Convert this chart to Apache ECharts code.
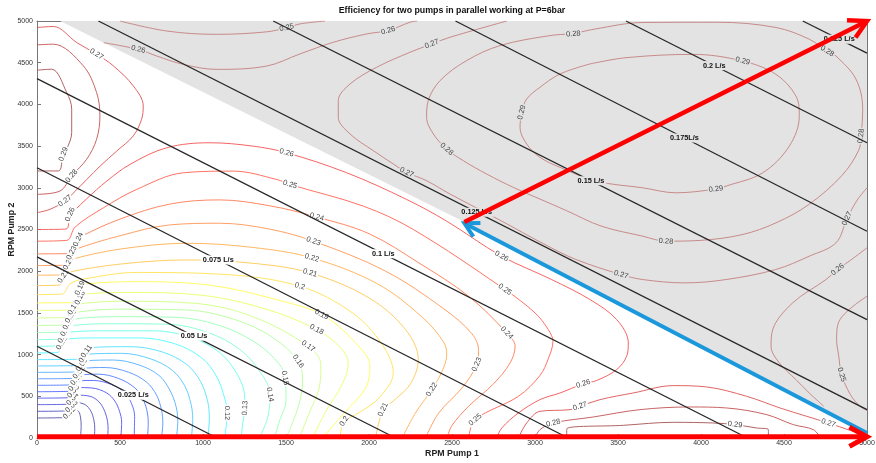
<!DOCTYPE html>
<html>
<head>
<meta charset="utf-8">
<script src="https://cdn.jsdelivr.net/npm/echarts@6/dist/echarts.min.js"></script>
<style>
html,body{margin:0;padding:0;background:#fff;}
#chart{width:876px;height:463px;}
</style>
</head>
<body>
<div id="chart"></div>
<script>
// Efficiency contours, x = RPM pump 1, y = RPM pump 2.
// Single-pump regime (white area), one path per level.
const eff02 = [[0,240],[170,245],[195,300],[220,345],[250,320],[262,250],[266,150],[262,0]];
const eff03 = [[0,320],[184,325],[209,380],[234,425],[290,400],[325,320],[342,220],[348,110],[345,0]];
const eff04 = [[0,400],[190,405],[215,468],[240,513],[320,500],[375,430],[408,320],[425,200],[428,100],[425,0]];
const eff05 = [[0,478],[194,483],[219,560],[244,605],[330,600],[420,540],[470,440],[497,320],[510,190],[505,0]];
const eff06 = [[0,555],[200,560],[225,640],[250,685],[340,690],[450,640],[530,540],[570,410],[588,260],[585,0]];
const eff07 = [[0,632],[214,637],[239,708],[264,753],[370,765],[490,715],[590,600],[640,460],[665,300],[670,160],[665,0]];
const eff08 = [[0,710],[228,715],[253,788],[278,833],[410,845],[550,790],[660,670],[720,515],[750,335],[758,180],[750,0]];
const eff09 = [[0,787],[244,792],[269,880],[294,925],[460,935],[615,875],[735,750],[800,575],[838,375],[848,200],[840,0]];
const eff10 = [[0,864],[254,869],[279,960],[304,1005],[510,1015],[683,950],[815,812],[890,625],[928,405],[938,220],[930,0]];
const eff11 = [[0,940],[274,945],[299,1040],[324,1085],[565,1095],[757,1030],[903,880],[985,678],[1028,440],[1038,240],[1030,0]];
const eff12 = [[0,1020],[124,1025],[149,1140],[174,1185],[360,1200],[620,1200],[830,1130],[990,965],[1080,745],[1130,480],[1146,300],[1130,0]];
const eff13 = [[0,1100],[134,1105],[159,1220],[184,1265],[400,1285],[700,1285],[930,1205],[1100,1025],[1200,785],[1250,525],[1253,360],[1240,180],[1230,0]];
const eff14 = [[0,1180],[150,1185],[175,1300],[200,1345],[450,1370],[780,1365],[1030,1265],[1220,1065],[1340,805],[1404,520],[1390,250],[1340,0]];
const eff15 = [[0,1265],[164,1270],[189,1380],[214,1425],[480,1455],[850,1445],[1120,1335],[1330,1125],[1460,885],[1494,720],[1500,450],[1460,200],[1430,0]];
const eff16 = [[0,1350],[178,1355],[203,1460],[228,1505],[500,1545],[900,1535],[1200,1415],[1420,1205],[1574,920],[1600,680],[1570,350],[1500,0]];
const eff17 = [[0,1440],[194,1445],[219,1560],[244,1605],[520,1640],[950,1615],[1300,1455],[1634,1100],[1710,880],[1700,600],[1640,300],[1580,0]];
const eff18 = [[0,1530],[234,1535],[259,1680],[284,1725],[560,1745],[1000,1710],[1380,1545],[1685,1300],[1830,1080],[1875,900],[1840,650],[1740,320],[1660,0]];
const eff19 = [[0,1620],[234,1625],[259,1800],[284,1845],[600,1875],[1050,1830],[1450,1655],[1715,1480],[1900,1180],[2006,860],[1980,600],[1850,300],[1720,0]];
const eff20 = [[0,1720],[150,1725],[200,1850],[280,1905],[600,1985],[1100,1965],[1584,1820],[1900,1500],[2080,1120],[2146,780],[2060,480],[1920,280],[1850,200],[1825,0]];
const eff21 = [[0,1828],[134,1833],[159,1940],[184,1985],[500,2085],[900,2135],[1300,2095],[1645,1980],[2000,1680],[2220,1300],[2297,940],[2250,650],[2150,450],[2085,340],[2040,0]];
const eff22 = [[0,1952],[164,1957],[189,2100],[214,2145],[500,2265],[900,2335],[1300,2285],[1655,2160],[2050,1850],[2320,1450],[2450,1150],[2468,1000],[2440,800],[2378,580],[2280,300],[2200,0]];
const eff23 = [[0,2068],[184,2073],[209,2220],[234,2265],[500,2425],[800,2555],[1100,2575],[1400,2505],[1665,2360],[2100,2000],[2450,1550],[2620,1250],[2660,1050],[2649,880],[2560,600],[2420,300],[2340,0]];
const eff24 = [[0,2208],[224,2213],[249,2380],[274,2425],[500,2625],[800,2805],[1100,2855],[1400,2785],[1685,2650],[2000,2450],[2300,2100],[2600,1700],[2830,1260],[2880,1100],[2850,900],[2750,650],[2600,380],[2500,150],[2470,0]];
const eff25 = [[0,2360],[180,2370],[230,2530],[400,2760],[600,2980],[881,3180],[1183,3200],[1444,3100],[1524,3040],[1966,2780],[2267,2500],[2819,1780],[3000,1500],[3080,1300],[3108,1160],[3080,950],[3030,750],[2900,500],[2640,220],[2600,0]];
const eff26 = [[0,2500],[174,2505],[199,2680],[224,2725],[300,2870],[420,3080],[560,3280],[781,3480],[1042,3540],[1300,3500],[1504,3420],[1866,3180],[2227,2860],[2468,2600],[2799,2180],[3100,1900],[3331,1660],[3492,1420],[3562,1140],[3552,980],[3492,820],[3372,690],[3291,650],[3151,540],[3030,460],[2900,300],[2800,120],[2770,0]];
const eff27a = [[0,4922],[98,4934],[239,4742],[359,4602],[460,4462],[580,4222],[640,3982],[630,3822],[580,3622],[480,3440],[380,3260],[300,3100],[230,2960],[169,2842],[78,2742],[0,2702]];
const eff27b = [[2900,0],[2950,180],[3030,320],[3211,340],[3271,380],[3392,460],[3592,540],[3833,628],[4034,612],[4275,500],[4476,360],[4637,260],[4767,180],[4900,90],[4960,50]];
const eff28a = [[0,4714],[98,4722],[279,4462],[359,4142],[379,3862],[359,3582],[299,3342],[209,3142],[139,2962],[0,2922]];
const eff28b = [[3000,0],[3030,100],[3110,180],[3351,252],[3633,340],[3934,372],[4155,360],[4396,280],[4556,160],[4677,100],[4720,0]];
const eff29a = [[0,4410],[88,4422],[179,4142],[209,3942],[209,3662],[179,3462],[159,3402],[128,3202],[0,3202]];
const eff29b = [[3191,0],[3191,108],[3532,152],[3833,188],[4074,180],[4205,160],[4335,120],[4406,100],[4406,0]];

const singleContours = [
  [0.02, eff02], [0.03, eff03], [0.04, eff04], [0.05, eff05], [0.06, eff06],
  [0.07, eff07], [0.08, eff08], [0.09, eff09], [0.10, eff10], [0.11, eff11],
  [0.12, eff12], [0.13, eff13], [0.14, eff14], [0.15, eff15], [0.16, eff16],
  [0.17, eff17], [0.18, eff18], [0.19, eff19], [0.20, eff20], [0.21, eff21],
  [0.22, eff22], [0.23, eff23], [0.24, eff24], [0.25, eff25], [0.26, eff26],
  [0.27, eff27a], [0.27, eff27b], [0.28, eff28a], [0.28, eff28b], [0.29, eff29a], [0.29, eff29b]
];

const singleLabels = [
  [195,300,0.02],[209,380,0.03],[215,468,0.04],[219,560,0.05],[225,640,0.06],[239,708,0.07],
  [253,788,0.08],[269,880,0.09],[279,960,0.10],[299,1040,0.11],
  [149,1140,0.12],[159,1220,0.13],[175,1300,0.14],[189,1380,0.15],[203,1460,0.16],[219,1560,0.17],
  [259,1680,0.18],[259,1800,0.19],[159,1940,0.21],[189,2100,0.22],[209,2220,0.23],[249,2380,0.24],
  [199,2680,0.26],[169,2842,0.27],[209,3142,0.28],[159,3402,0.29],[359,4602,0.27],
  [1146,300,0.12],[1253,360,0.13],[1404,520,0.14],[1494,720,0.15],[1574,920,0.16],[1634,1100,0.17],
  [1685,1300,0.18],[1715,1480,0.19],[1584,1820,0.20],[1645,1980,0.21],[1655,2160,0.22],[1665,2360,0.23],
  [1685,2650,0.24],[1524,3040,0.25],[1504,3420,0.26],
  [1850,200,0.20],[2085,340,0.21],[2378,580,0.22],[2649,880,0.23],[2830,1260,0.24],[2819,1780,0.25],
  [2799,2180,0.26],[2640,220,0.25],[3291,650,0.26],[3271,380,0.27],[3110,180,0.28],[4205,160,0.29],[4767,180,0.27]
];

// Both-pumps regime (grey area).
const both25a = [[500,5000],[781,4880],[1082,4840],[1384,4870],[1504,4920],[1584,4965],[1735,5000]];
const both26a = [[402,4740],[610,4660],[721,4580],[881,4480],[1082,4420],[1384,4460],[1584,4605],[1785,4745],[1986,4845],[2116,4886],[2247,4985],[2290,5000]];
const both27 = [[2830,5000],[2488,4805],[2378,4725],[2247,4625],[2046,4445],[1886,4245],[1815,4045],[1815,3845],[1886,3645],[2026,3445],[2147,3285],[2227,3185],[2347,3085],[2488,2925],[2800,2600],[3050,2330],[3247,2140],[3518,1960],[3649,1900],[3900,1860],[4151,1900],[4450,2020],[4652,2180],[4813,2340],[4880,2630],[4940,2850],[5000,3000]];
const both28 = [[3231,4845],[3090,4825],[2789,4705],[2588,4525],[2428,4285],[2357,4045],[2347,3845],[2388,3645],[2468,3465],[2568,3325],[2709,3165],[2869,3005],[3030,2865],[3191,2725],[3400,2540],[3649,2420],[3789,2360],[4000,2370],[4251,2440],[4452,2580],[4650,2800],[4850,3150],[4950,3450],[4964,3621],[4974,3941],[4934,4301],[4813,4581],[4760,4640],[4652,4782],[4452,4922],[4100,4985],[3649,4982],[3357,4902],[3231,4845]];
const both29 = [[3331,4485],[3548,4560],[3950,4600],[4251,4520],[4452,4360],[4572,4100],[4592,3860],[4532,3500],[4372,3180],[4151,3020],[4090,2985],[3849,2940],[3649,3000],[3367,3080],[3151,3245],[3030,3365],[2950,3525],[2910,3725],[2920,3905],[2950,4065],[3030,4205],[3151,4365],[3331,4485]];
const both26b = [[5000,2280],[4900,2130],[4823,2020],[4753,1900],[4552,1620],[4432,1300],[4422,1100],[4472,900],[4572,700],[4652,540],[4740,380]];
const both25b = [[5000,1700],[4837,1420],[4817,1180],[4830,980],[4847,760],[4900,520],[4958,380],[5000,330]];

const bothContours = [
  [0.25, both25a], [0.26, both26a], [0.27, both27], [0.28, both28], [0.29, both29], [0.26, both26b], [0.25, both25b]
];

const bothLabels = [
  [1504,4920,0.25],[610,4660,0.26],[2116,4886,0.26],[2378,4725,0.27],[2227,3185,0.27],[3518,1960,0.27],
  [4880,2630,0.27],[3231,4845,0.28],[2468,3465,0.28],[3789,2360,0.28],[4964,3621,0.28],[4760,4640,0.28],
  [2920,3905,0.29],[4251,4520,0.29],[4090,2985,0.29],[4823,2020,0.26],[4847,760,0.25]
];

// Outline of the region where both pumps run.
const bothRegion = [[139,5000],[5000,5000],[5000,60],[2575,2590]];

// Constant-flow lines.
const flowNames = ['0.025 L/s','0.05 L/s','0.075 L/s','0.1 L/s','0.125 L/s','0.15 L/s','0.175L/s','0.2 L/s','0.225 L/s'];
const flowLines = [
  [[0,1100],[1085,0]],
  [[0,2172],[2160,0]],
  [[0,3240],[3200,0]],
  [[0,4310],[4280,0]],
  [[370,5000],[5000,340]],
  [[1423,5000],[5000,1420]],
  [[2521,5000],[5000,2479]],
  [[3548,5000],[5000,3540]],
  [[4613,5000],[5000,4615]]
];
const flowLabelX = [580, 946, 1092, 2086, 2649, 3337, 3900, 4080, 4833];

// Operating paths.
const pathPump1 = [[0,15],[5000,15]];
const pathBoth = [[2575,2590],[5000,5000]];
const pathBack = [[5000,60],[2575,2575]];

const FONT = "'Liberation Sans', Arial, Helvetica, sans-serif";

function jet(t) {
  const c = v => Math.max(0, Math.min(1, v));
  const r = c(1.5 - Math.abs(4 * t - 3));
  const g = c(1.5 - Math.abs(4 * t - 2));
  const b = c(1.5 - Math.abs(4 * t - 1));
  const m = v => Math.round(255 * (v * 0.68 + 0.32));
  return 'rgb(' + m(r) + ',' + m(g) + ',' + m(b) + ')';
}

function insideRegion(pt, poly) {
  let inside = false;
  for (let i = 0, j = poly.length - 1; i < poly.length; j = i++) {
    const xi = poly[i][0], yi = poly[i][1], xj = poly[j][0], yj = poly[j][1];
    if (((yi > pt[1]) !== (yj > pt[1])) && (pt[0] < (xj - xi) * (pt[1] - yi) / (yj - yi) + xi)) inside = !inside;
  }
  return inside;
}

const series = [];

singleContours.forEach(([lvl, pts]) => {
  series.push({
    type: 'line', data: pts, smooth: 0.35, symbol: 'none', silent: true, z: 2,
    lineStyle: { width: 0.9, color: jet((lvl - 0.02) / 0.27) }
  });
});

series.push({
  type: 'custom', z: 3, silent: true, data: [[0, 0]],
  renderItem: (params, api) => ({
    type: 'polygon',
    shape: { points: bothRegion.map(p => api.coord(p)) },
    style: { fill: '#e3e3e3' }
  })
});

bothContours.forEach(([lvl, pts]) => {
  series.push({
    type: 'line', data: pts, smooth: 0.35, symbol: 'none', silent: true, z: 4,
    lineStyle: { width: 0.8, color: '#c07474' }
  });
});

function contourLabelSeries(list, paths, bg, z) {
  return {
    type: 'custom', z: z, silent: true, data: list,
    renderItem: (params, api) => {
      const x = api.value(0), y = api.value(1), lvl = api.value(2);
      const p = api.coord([x, y]);
      let best = null, bd = Infinity;
      paths.forEach(([l, pts]) => {
        if (Math.abs(l - lvl) > 1e-6) return;
        pts.forEach((q, i) => {
          const d = (q[0] - x) * (q[0] - x) + (q[1] - y) * (q[1] - y);
          if (d < bd) { bd = d; best = [pts, i]; }
        });
      });
      let ang = 0;
      if (best) {
        const pts = best[0], i = best[1];
        const a = api.coord(pts[Math.max(0, i - 1)]);
        const b = api.coord(pts[Math.min(pts.length - 1, i + 1)]);
        ang = Math.atan2(-(b[1] - a[1]), b[0] - a[0]);
        if (ang > Math.PI / 2) ang -= Math.PI;
        if (ang < -Math.PI / 2) ang += Math.PI;
      }
      return {
        type: 'text', x: p[0], y: p[1], rotation: ang,
        style: {
          text: String(+lvl.toFixed(2)), font: '7.5px ' + FONT, fill: '#444',
          align: 'center', verticalAlign: 'middle', backgroundColor: bg, padding: [0, 1]
        }
      };
    }
  };
}

series.push(contourLabelSeries(singleLabels, singleContours, '#ffffff', 5));
series.push(contourLabelSeries(bothLabels, bothContours, '#e3e3e3', 5));

flowLines.forEach(seg => {
  series.push({
    type: 'line', data: seg, symbol: 'none', silent: true, z: 6,
    lineStyle: { width: 1.3, color: '#262626' }
  });
});

series.push({
  type: 'custom', z: 7, silent: true,
  data: flowLabelX.map((lx, i) => {
    const s = flowLines[i];
    const ly = s[0][1] + (s[1][1] - s[0][1]) * (lx - s[0][0]) / (s[1][0] - s[0][0]);
    return [lx, ly, i];
  }),
  renderItem: (params, api) => {
    const x = api.value(0), y = api.value(1), i = api.value(2);
    const p = api.coord([x, y]);
    return {
      type: 'text', x: p[0], y: p[1],
      style: {
        text: flowNames[i], font: 'bold 7.3px ' + FONT, fill: '#111',
        align: 'center', verticalAlign: 'middle', padding: [1, 2],
        backgroundColor: insideRegion([x, y], bothRegion) ? '#e3e3e3' : '#ffffff'
      }
    };
  }
});

function arrowSeries(seg, color, width, head, z) {
  return {
    type: 'custom', z: z, silent: true,
    data: [[seg[0][0], seg[0][1], seg[1][0], seg[1][1]]],
    encode: { x: [0, 2], y: [1, 3] },
    renderItem: (params, api) => {
      const a = api.coord([api.value(0), api.value(1)]);
      const b = api.coord([api.value(2), api.value(3)]);
      const ang = Math.atan2(b[1] - a[1], b[0] - a[0]);
      const w1 = [b[0] - head * Math.cos(ang - 0.5), b[1] - head * Math.sin(ang - 0.5)];
      const w2 = [b[0] - head * Math.cos(ang + 0.5), b[1] - head * Math.sin(ang + 0.5)];
      return {
        type: 'group',
        children: [
          { type: 'line', shape: { x1: a[0], y1: a[1], x2: b[0] - 2 * Math.cos(ang), y2: b[1] - 2 * Math.sin(ang) },
            style: { stroke: color, lineWidth: width } },
          { type: 'polyline', shape: { points: [w1, b, w2] },
            style: { stroke: color, lineWidth: width, fill: null, lineJoin: 'miter' } }
        ]
      };
    }
  };
}

series.push(arrowSeries(pathBack, '#1b98dc', 4, 16, 8));
series.push(arrowSeries(pathPump1, '#ff0000', 5, 20, 9));
series.push(arrowSeries(pathBoth, '#ff0000', 4.5, 20, 9));

const axisCommon = {
  type: 'value', min: 0, max: 5000, interval: 500,
  splitLine: { show: false },
  axisLine: { show: true, onZero: false, lineStyle: { color: '#777', width: 1 } },
  axisTick: { show: true, inside: true, length: 4, lineStyle: { color: '#777' } }
};

const tickText = v => String(v);

const option = {
  animation: false,
  backgroundColor: '#ffffff',
  grid: { left: 37, right: 9, top: 21, bottom: 25, containLabel: false, outerBoundsMode: 'none' },
  graphic: [{
    type: 'text', x: 452, y: 11, z: 20,
    style: {
      text: 'Efficiency for two pumps in parallel working at P=6bar',
      font: 'bold 8.8px ' + FONT, fill: '#111', align: 'center', verticalAlign: 'middle'
    }
  }],
  xAxis: [
    Object.assign({}, axisCommon, {
      position: 'bottom', name: 'RPM Pump 1', nameLocation: 'middle', nameGap: 11, nameMoveOverlap: false,
      nameTextStyle: { fontFamily: FONT, fontSize: 8.8, fontWeight: 'bold', color: '#222' },
      axisLabel: { fontFamily: FONT, fontSize: 7, color: '#333', margin: 2, formatter: tickText }
    }),
    Object.assign({}, axisCommon, { position: 'top', axisLabel: { show: false } })
  ],
  yAxis: [
    Object.assign({}, axisCommon, {
      position: 'left', name: 'RPM Pump 2', nameLocation: 'middle', nameGap: 21, nameMoveOverlap: false,
      nameTextStyle: { fontFamily: FONT, fontSize: 8.8, fontWeight: 'bold', color: '#222' },
      axisLabel: { fontFamily: FONT, fontSize: 7, color: '#333', margin: 4, formatter: tickText }
    }),
    Object.assign({}, axisCommon, { position: 'right', axisLabel: { show: false } })
  ],
  series: series
};

const chart = echarts.init(document.getElementById('chart'), null, { renderer: 'canvas', width: 876, height: 463 });
chart.setOption(option);
</script>
</body>
</html>
